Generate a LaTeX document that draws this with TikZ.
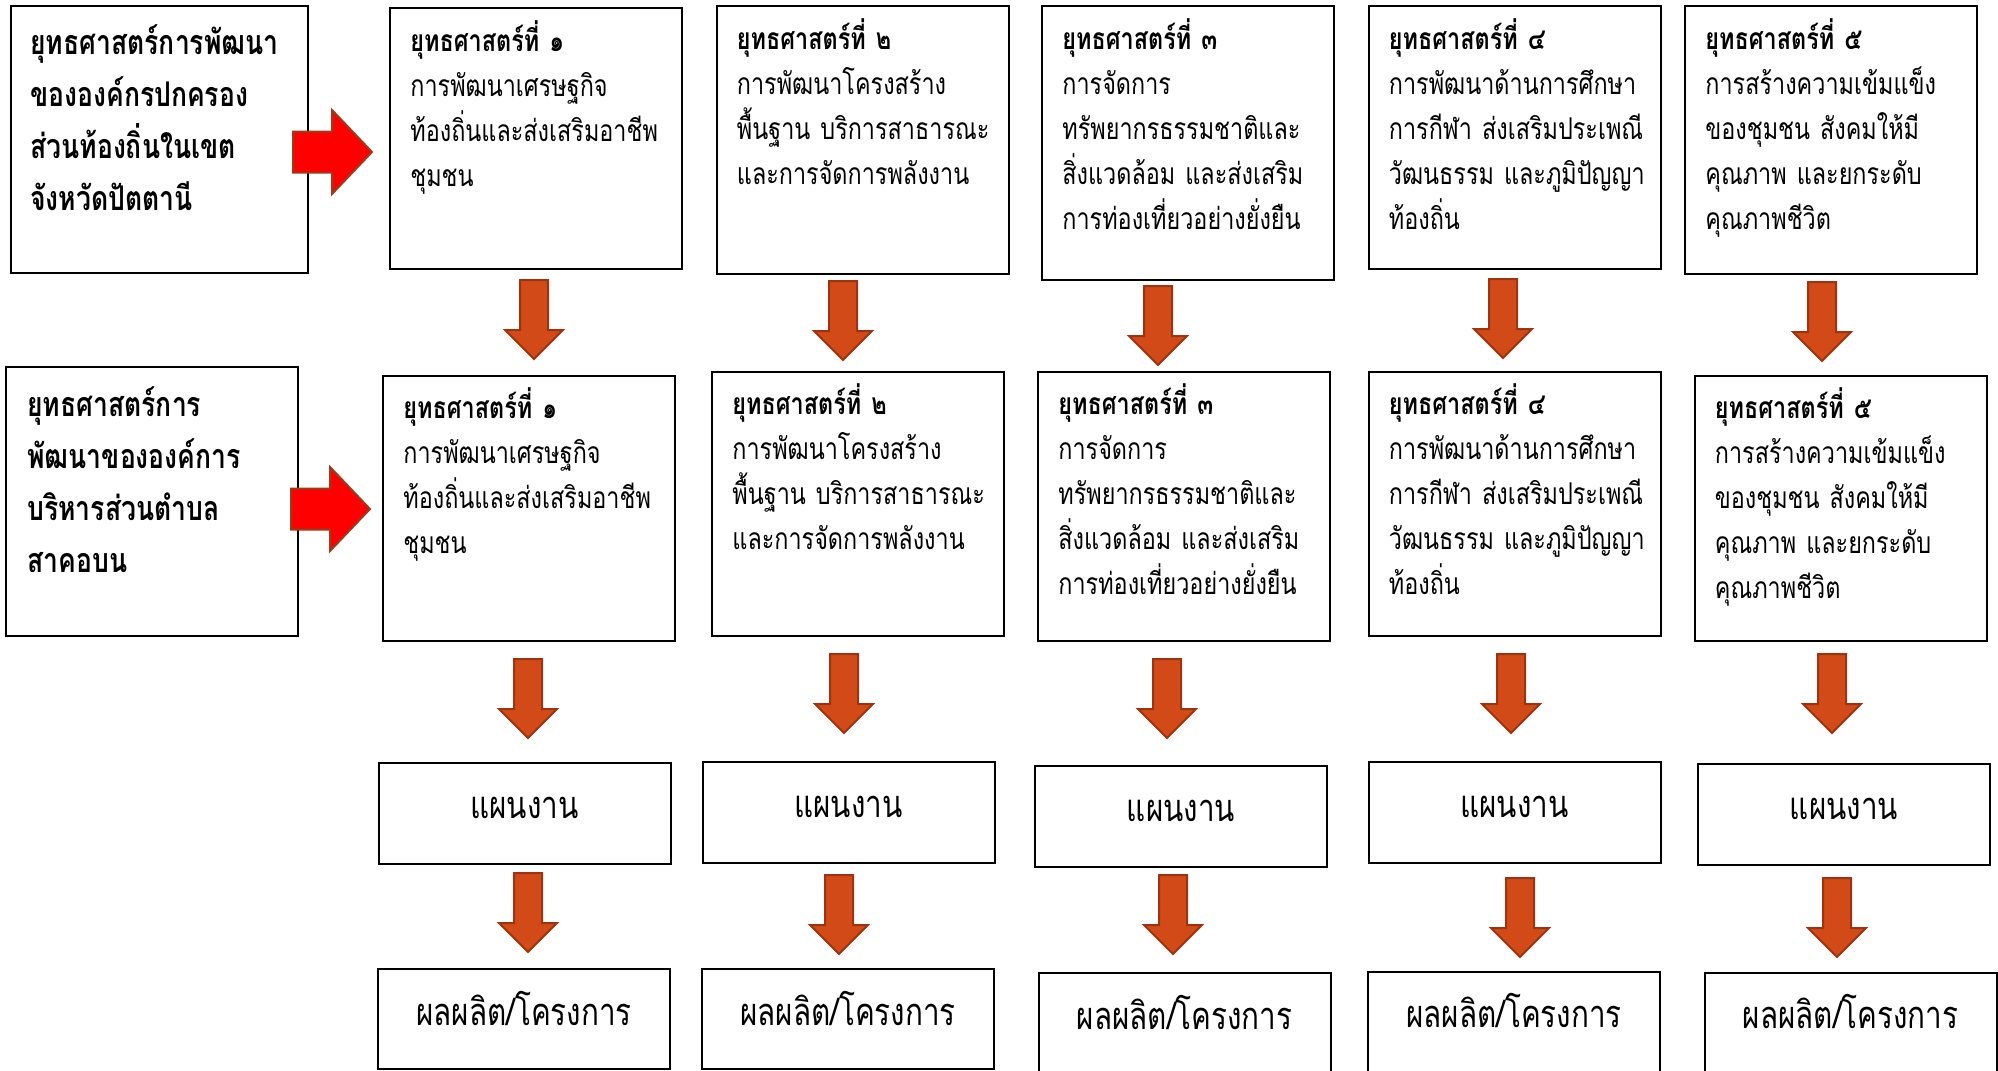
\documentclass[tikz,border=0pt]{standalone}
\usepackage{fontspec}
\setmainfont{Loma}[Script=Thai, FakeStretch=0.78]
\usetikzlibrary{calc}
\definecolor{arrowfill}{HTML}{D14A18}
\definecolor{arrowline}{HTML}{A0330F}
\definecolor{redfill}{HTML}{FF0000}
\definecolor{redline}{HTML}{9E3A1A}

\begin{document}
\begin{tikzpicture}[
    x=0.5pt, y=-0.5pt,
    box/.style={draw=black, line width=1pt, minimum width=146pt,
        minimum height=132pt, inner sep=0pt},
    planbox/.style={box, minimum height=50.5pt},
    bodytext/.style={anchor=base west, align=left, text width=150pt,
        inner sep=0pt, font=\fontsize{15}{22.5}\selectfont},
    sidetext/.style={anchor=base west, align=left, text width=150pt,
        inner sep=0pt, font=\bfseries\fontsize{17}{26}\selectfont},
    plantext/.style={anchor=base, inner sep=0pt, font=\fontsize{19}{22}\selectfont},
    downarrow/.pic={\draw[line width=1pt, draw=arrowline, fill=arrowfill]
        (-14,-39.5) -- (14,-39.5) -- (14,10.5) -- (29,10.5) -- (0,39.5)
        -- (-29,10.5) -- (-14,10.5) -- cycle;},
    rightarrow/.pic={\draw[line width=1pt, draw=redline, fill=redfill]
        (0,-20.5) -- (39,-20.5) -- (39,-42) -- (79,0) -- (39,42)
        -- (39,20.5) -- (0,20.5) -- cycle;}
]
    \useasboundingbox (0,0) rectangle (1998,1071);

    \node[box, minimum width=148.5pt, minimum height=133.5pt] (l1) at (159.5,139.5) {};
    \node[box, minimum height=130.5pt] (s1) at (536,138.5) {};
    \node[box, minimum height=134pt] (s2) at (862.5,140) {};
    \node[box, minimum height=137pt] (s3) at (1188,143) {};
    \node[box, minimum height=131.5pt] (s4) at (1514.5,137.5) {};
    \node[box, minimum height=134pt] (s5) at (1831,140) {};

    \node[box, minimum height=134.5pt] (l2) at (152,501.5) {};
    \node[box, minimum height=132.5pt] (t1) at (529,508.5) {};
    \node[box] (t2) at (858,504) {};
    \node[box, minimum height=134.5pt] (t3) at (1184,506.5) {};
    \node[box] (t4) at (1514.5,504) {};
    \node[box, minimum height=132.5pt] (t5) at (1840.5,508.5) {};

    \node[planbox] (p1) at (524.5,813.5) {};
    \node[planbox] (p2) at (848.5,812.5) {};
    \node[planbox] (p3) at (1181,816.5) {};
    \node[planbox] (p4) at (1514.5,812.5) {};
    \node[planbox] (p5) at (1844,814.5) {};

    \node[planbox, minimum height=50pt] (r1) at (524,1019) {};
    \node[planbox, minimum height=50pt] (r2) at (848,1019) {};
    \node[planbox, minimum height=56pt] (r3) at (1184.5,1029) {};
    \node[planbox, minimum height=56pt] (r4) at (1514,1027.5) {};
    \node[planbox, minimum height=56pt] (r5) at (1850.5,1028.5) {};

    \node[sidetext] (l1t) at ($(l1.north west)+(20,49)$)
        {ยุทธศาสตร์การพัฒนา\\ขององค์กรปกครอง\\ส่วนท้องถิ่นในเขต\\จังหวัดปัตตานี};
    \node[sidetext] (l2t) at ($(l2.north west)+(22,50)$)
        {ยุทธศาสตร์การ\\พัฒนาขององค์การ\\บริหารส่วนตำบล\\สาคอบน};

    \node[bodytext] (s1t) at ($(s1.north west)+(21,44)$)
        {\textbf{ยุทธศาสตร์ที่ ๑}\\การพัฒนาเศรษฐกิจ\\ท้องถิ่นและส่งเสริมอาชีพ\\ชุมชน};
    \node[bodytext] (s2t) at ($(s2.north west)+(21,44)$)
        {\textbf{ยุทธศาสตร์ที่ ๒}\\การพัฒนาโครงสร้าง\\พื้นฐาน บริการสาธารณะ\\และการจัดการพลังงาน};
    \node[bodytext] (s3t) at ($(s3.north west)+(21,44)$)
        {\textbf{ยุทธศาสตร์ที่ ๓}\\การจัดการ\\ทรัพยากรธรรมชาติและ\\สิ่งแวดล้อม และส่งเสริม\\การท่องเที่ยวอย่างยั่งยืน};
    \node[bodytext] (s4t) at ($(s4.north west)+(21,44)$)
        {\textbf{ยุทธศาสตร์ที่ ๔}\\การพัฒนาด้านการศึกษา\\การกีฬา ส่งเสริมประเพณี\\วัฒนธรรม และภูมิปัญญา\\ท้องถิ่น};
    \node[bodytext] (s5t) at ($(s5.north west)+(21,44)$)
        {\textbf{ยุทธศาสตร์ที่ ๕}\\การสร้างความเข้มแข็ง\\ของชุมชน สังคมให้มี\\คุณภาพ และยกระดับ\\คุณภาพชีวิต};

    \node[bodytext] (t1t) at ($(t1.north west)+(21,43)$)
        {\textbf{ยุทธศาสตร์ที่ ๑}\\การพัฒนาเศรษฐกิจ\\ท้องถิ่นและส่งเสริมอาชีพ\\ชุมชน};
    \node[bodytext] (t2t) at ($(t2.north west)+(21,43)$)
        {\textbf{ยุทธศาสตร์ที่ ๒}\\การพัฒนาโครงสร้าง\\พื้นฐาน บริการสาธารณะ\\และการจัดการพลังงาน};
    \node[bodytext] (t3t) at ($(t3.north west)+(21,43)$)
        {\textbf{ยุทธศาสตร์ที่ ๓}\\การจัดการ\\ทรัพยากรธรรมชาติและ\\สิ่งแวดล้อม และส่งเสริม\\การท่องเที่ยวอย่างยั่งยืน};
    \node[bodytext] (t4t) at ($(t4.north west)+(21,43)$)
        {\textbf{ยุทธศาสตร์ที่ ๔}\\การพัฒนาด้านการศึกษา\\การกีฬา ส่งเสริมประเพณี\\วัฒนธรรม และภูมิปัญญา\\ท้องถิ่น};
    \node[bodytext] (t5t) at ($(t5.north west)+(21,43)$)
        {\textbf{ยุทธศาสตร์ที่ ๕}\\การสร้างความเข้มแข็ง\\ของชุมชน สังคมให้มี\\คุณภาพ และยกระดับ\\คุณภาพชีวิต};

    \node[plantext] (p1t) at ($(p1.north)+(0,56)$) {แผนงาน};
    \node[plantext] (p2t) at ($(p2.north)+(0,56)$) {แผนงาน};
    \node[plantext] (p3t) at ($(p3.north)+(0,56)$) {แผนงาน};
    \node[plantext] (p4t) at ($(p4.north)+(0,56)$) {แผนงาน};
    \node[plantext] (p5t) at ($(p5.north)+(0,56)$) {แผนงาน};

    \node[plantext] (r1t) at ($(r1.north)+(0,57)$) {ผลผลิต/โครงการ};
    \node[plantext] (r2t) at ($(r2.north)+(0,57)$) {ผลผลิต/โครงการ};
    \node[plantext] (r3t) at ($(r3.north)+(0,57)$) {ผลผลิต/โครงการ};
    \node[plantext] (r4t) at ($(r4.north)+(0,57)$) {ผลผลิต/โครงการ};
    \node[plantext] (r5t) at ($(r5.north)+(0,57)$) {ผลผลิต/โครงการ};

    \pic at ($(l1.east)+(-16,12.5)$) {rightarrow};
    \pic at ($(l2.east)+(-8,7.5)$) {rightarrow};

    \pic at ($(s1.south)+(-2,49.5)$) {downarrow};
    \pic at ($(s2.south)+(-19.5,45.5)$) {downarrow};
    \pic at ($(s3.south)+(-30,44.5)$) {downarrow};
    \pic at ($(s4.south)+(-11.5,48.5)$) {downarrow};
    \pic at ($(s5.south)+(-9,46.5)$) {downarrow};

    \pic at ($(t1.south)+(-1,56.5)$) {downarrow};
    \pic at ($(t2.south)+(-14,56.5)$) {downarrow};
    \pic at ($(t3.south)+(-17,56.5)$) {downarrow};
    \pic at ($(t4.south)+(-3.5,56.5)$) {downarrow};
    \pic at ($(t5.south)+(-8.5,51.5)$) {downarrow};

    \pic at ($(p1.south)+(3.5,47.5)$) {downarrow};
    \pic at ($(p2.south)+(-9.5,50.5)$) {downarrow};
    \pic at ($(p3.south)+(-8,46.5)$) {downarrow};
    \pic at ($(p4.south)+(5.5,53.5)$) {downarrow};
    \pic at ($(p5.south)+(-7,51.5)$) {downarrow};
\end{tikzpicture}
\end{document}
